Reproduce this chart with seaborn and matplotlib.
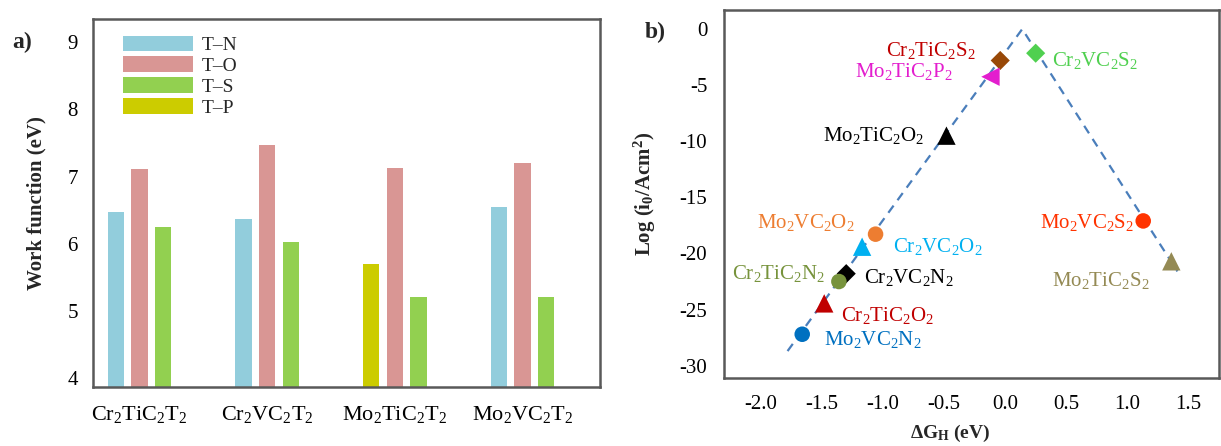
import matplotlib
matplotlib.use("Agg")
import matplotlib.pyplot as plt
import numpy as np
import pandas as pd
import seaborn as sns
from matplotlib.patches import Patch

# panel a: work function per MXene and termination
materials = ["Cr$_2$TiC$_2$T$_2$", "Cr$_2$VC$_2$T$_2$", "Mo$_2$TiC$_2$T$_2$", "Mo$_2$VC$_2$T$_2$"]
wf_tn = [6.47, 6.36, np.nan, 6.55]
wf_to = [7.11, 7.47, 7.12, 7.20]
wf_ts = [6.24, 6.02, 5.21, 5.21]
wf_tp = [np.nan, np.nan, 5.69, np.nan]
terminations = ["T–N", "T–O", "T–S", "T–P"]
term_colors = ["#92CDDC", "#D99694", "#92D050", "#CCCC00"]
wf_ticks = [4, 5, 6, 7, 8, 9]

# panel b: volcano plot
vol_names = ["Cr$_2$TiC$_2$S$_2$", "Cr$_2$VC$_2$S$_2$", "Mo$_2$TiC$_2$P$_2$", "Mo$_2$TiC$_2$O$_2$",
             "Mo$_2$VC$_2$O$_2$", "Cr$_2$VC$_2$O$_2$", "Cr$_2$VC$_2$N$_2$", "Cr$_2$TiC$_2$N$_2$",
             "Cr$_2$TiC$_2$O$_2$", "Mo$_2$VC$_2$N$_2$", "Mo$_2$VC$_2$S$_2$", "Mo$_2$TiC$_2$S$_2$"]
vol_dg = [-0.04, 0.25, -0.12, -0.48, -1.06, -1.17, -1.30, -1.36, -1.48, -1.66, 1.13, 1.36]
vol_log = [-2.8, -2.15, -4.25, -9.5, -18.28, -19.4, -21.8, -22.5, -24.45, -27.2, -17.1, -20.7]
vol_colors = ["#984807", "#50D050", "#E31ECE", "#000000", "#ED7D31", "#00B0F0", "#000000",
              "#77933C", "#C00000", "#0070C0", "#FF3300", "#948A54"]
label_colors = ["#C00000", "#50D050", "#E31ECE", "#000000", "#ED7D31", "#00B0F0", "#000000",
                "#77933C", "#C00000", "#0070C0", "#FF3300", "#948A54"]
vol_markers = ["D", "D", "<", "^", "o", "^", "D", "o", "^", "o", "o", "^"]
line_dg = [-1.78, 0.14, 1.41]
line_log = [-28.7, 0.0, -21.6]
dg_ticks = [-2.0, -1.5, -1.0, -0.5, 0.0, 0.5, 1.0, 1.5]
log_ticks = [0, -5, -10, -15, -20, -25, -30]

# label centres in data coords
label_pos = [(-0.61, -1.92), (0.74, -2.76), (-0.83, -3.81), (-1.08, -9.52),
             (-1.63, -17.27), (-0.55, -19.4), (-0.79, -22.14), (-1.85, -21.8),
             (-0.96, -25.5), (-1.08, -27.7), (0.67, -17.27), (0.78, -22.37)]


def main():
    sns.set_theme(style="white")
    plt.rcParams['font.family'] = ['Liberation Serif', 'DejaVu Serif']
    plt.rcParams['mathtext.fontset'] = 'custom'
    plt.rcParams['mathtext.rm'] = 'Liberation Serif'
    plt.rcParams['mathtext.it'] = 'Liberation Serif:italic'
    plt.rcParams['mathtext.bf'] = 'Liberation Serif:bold'
    plt.rcParams['axes.unicode_minus'] = False
    spine_color = "#595959"
    fs = 15

    fig = plt.figure(figsize=(12.21, 4.46), dpi=100)
    W, H = 1221.0, 446.0
    ax_a = fig.add_axes([93 / W, 1 - 387 / H, 507 / W, 368 / H])
    ax_b = fig.add_axes([724 / W, 1 - 378 / H, 495 / W, 368 / H])

    # ---- panel a
    slot_of = {"T–N": 0, "T–P": 0, "T–O": 1, "T–S": 2}
    series = dict(zip(terminations, [wf_tn, wf_to, wf_ts, wf_tp]))
    rows = []
    for i, m in enumerate(materials):
        for t in terminations:
            v = series[t][i]
            if not np.isnan(v):
                rows.append({"material": m, "value": v, "slot": slot_of[t], "term": t})
    df_a = pd.DataFrame(rows)
    color_lookup = {(r["material"], r["slot"]): term_colors[terminations.index(r["term"])]
                    for _, r in df_a.iterrows()}

    sns.barplot(data=df_a, x="material", y="value", hue="slot", order=materials,
                width=0.556, gap=0.32, ax=ax_a, legend=False, saturation=1)
    slot_w = 0.556 / 3
    for p in ax_a.patches:
        cx = p.get_x() + p.get_width() / 2
        ci = int(round(cx))
        slot = int(round((cx - ci) / slot_w)) + 1
        key = (materials[ci], slot)
        if key in color_lookup:
            p.set_facecolor(color_lookup[key])
        p.set_edgecolor("none")

    ax_a.set_xlim(-0.364, 3.607)
    ax_a.set_ylim(3.86, 9.35)
    ax_a.set_yticks(wf_ticks)
    ax_a.set_xlabel("")
    ax_a.set_ylabel("")
    ax_a.tick_params(axis="both", length=0, labelsize=fs, colors="black")
    ax_a.tick_params(axis="y", pad=11)
    ax_a.tick_params(axis="x", pad=12, labelsize=fs + 1)
    handles = [Patch(facecolor=c, edgecolor="none") for c in term_colors]
    ax_a.legend(handles, terminations, loc="upper left", bbox_to_anchor=(0.059, 0.955),
                frameon=False, fontsize=fs - 1, handlelength=3.6, handleheight=0.85,
                labelspacing=0.12, handletextpad=0.45, borderpad=0, borderaxespad=0)
    fig.text(36 / W, 1 - 203 / H, "Work function (eV)", rotation=90, ha="center",
             va="center", fontsize=fs, fontweight="bold")
    fig.text(22 / W, 1 - 42 / H, "a)", ha="center", va="center", fontsize=fs + 2,
             fontweight="bold")

    # ---- panel b
    df_line = pd.DataFrame({"dg": line_dg, "log": line_log})
    sns.lineplot(data=df_line, x="dg", y="log", sort=False, ax=ax_b, color="#4A7EBB",
                 linestyle=(0, (4, 3)), linewidth=1.6)
    df_b = pd.DataFrame({"name": vol_names, "dg": vol_dg, "log": vol_log,
                         "marker": vol_markers})
    marker_sizes = {"o": 125, "D": 95, "^": 175, "<": 175}
    sns.scatterplot(data=df_b, x="dg", y="log", hue="name", style="name", size="marker",
                    palette=dict(zip(vol_names, vol_colors)),
                    markers=dict(zip(vol_names, vol_markers)),
                    sizes=marker_sizes, linewidth=0, legend=False, ax=ax_b, zorder=3)
    for name, (tx, ty), c in zip(vol_names, label_pos, label_colors):
        ax_b.text(tx, ty, name, color=c, fontsize=fs, ha="center", va="center")

    ax_b.set_xlim(-2.30, 1.75)
    ax_b.set_ylim(-31.1, 1.7)
    ax_b.set_xticks(dg_ticks)
    ax_b.set_xticklabels([f"{v:.1f}" for v in dg_ticks])
    ax_b.set_yticks(log_ticks)
    ax_b.set_xlabel("")
    ax_b.set_ylabel("")
    ax_b.tick_params(axis="both", length=0, labelsize=fs, colors="black")
    ax_b.tick_params(axis="y", pad=12)
    ax_b.tick_params(axis="x", pad=12)
    fig.text(645 / W, 1 - 194 / H, r"Log (i$_\mathbf{0}$/Acm$^\mathbf{2}$)", rotation=90,
             ha="center", va="center", fontsize=fs, fontweight="bold")
    fig.text(950 / W, 1 - 433 / H, r"ΔG$_\mathbf{H}$ (eV)", ha="center", va="center",
             fontsize=fs - 1, fontweight="bold")
    fig.text(655 / W, 1 - 32 / H, "b)", ha="center", va="center", fontsize=fs + 2,
             fontweight="bold")

    for ax in (ax_a, ax_b):
        for s in ax.spines.values():
            s.set_visible(True)
            s.set_color(spine_color)
            s.set_linewidth(1.8)
        ax.grid(False)

    fig.savefig("out.png", dpi=100)


if __name__ == "__main__":
    main()
